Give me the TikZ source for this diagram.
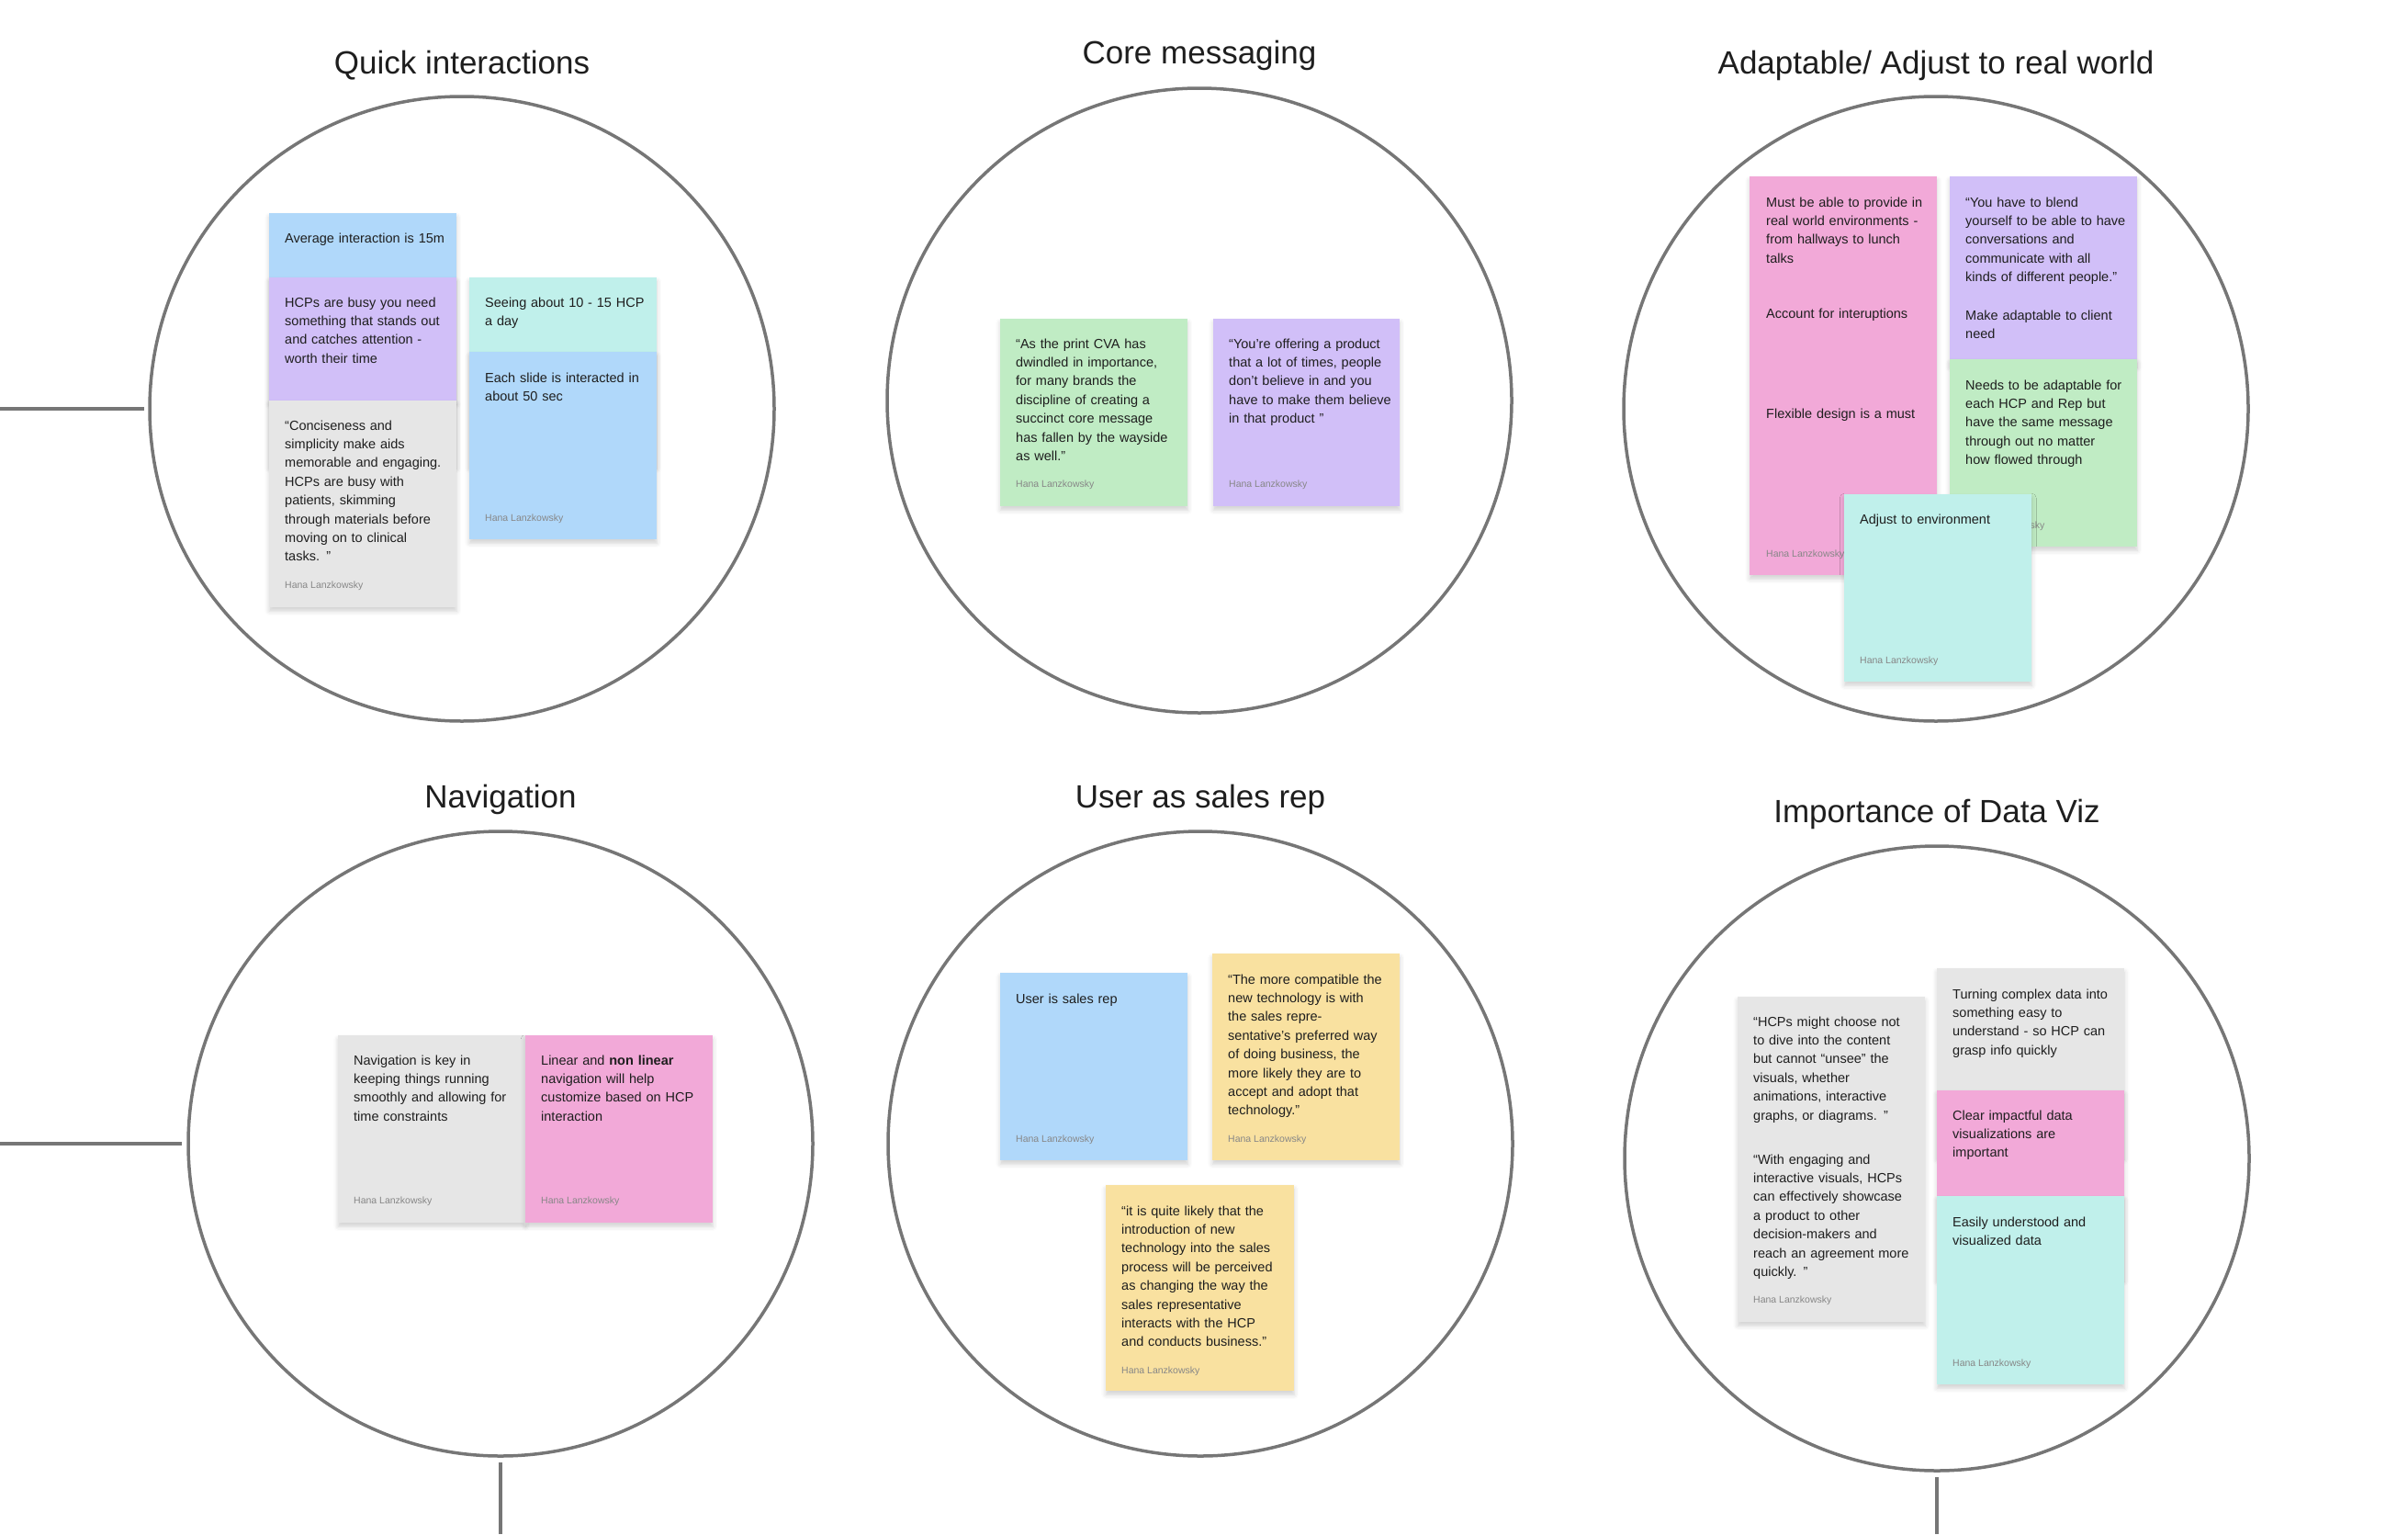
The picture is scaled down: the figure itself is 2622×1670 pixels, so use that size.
\documentclass[tikz,border=0pt]{standalone}
\usepackage{fontspec}
\setmainfont{Liberation Sans}
\usetikzlibrary{calc, shadows.blur}
\definecolor{ringGray}{RGB}{118,118,118}
\definecolor{inkDark}{RGB}{30,30,30}
\definecolor{inkSoft}{RGB}{135,135,135}
\definecolor{stkBlue}{RGB}{176,216,250}
\definecolor{stkViolet}{RGB}{209,191,248}
\definecolor{stkGray}{RGB}{230,230,230}
\definecolor{stkTeal}{RGB}{192,240,235}
\definecolor{stkGreen}{RGB}{192,236,196}
\definecolor{stkPink}{RGB}{242,169,216}
\definecolor{stkYellow}{RGB}{249,225,160}
\tikzset{
    ring/.style={circle, draw=ringGray, line width=3.5pt, minimum size=680pt, inner sep=0pt},
    ringtitle/.style={anchor=base, text=inkDark, font=\fontsize{35}{42}\selectfont},
    link/.style={draw=ringGray, line width=3.5pt},
    sticky/.style={rectangle, anchor=north west, inner sep=0pt, minimum width=204pt, minimum height=204pt,
        blur shadow={shadow xshift=0pt, shadow yshift=-4pt, shadow blur radius=5pt, shadow opacity=18}},
    notetext/.style={anchor=base west, inner sep=0pt, text width=186pt, align=left, text=inkDark, font=\fontsize{14.5}{20.4}\selectfont},
    author/.style={anchor=base west, inner sep=0pt, text=inkSoft, font=\fontsize{10.5}{12}\selectfont}
}
\begin{document}
\begin{tikzpicture}[x=1pt, y=-1pt]
    \useasboundingbox (0,0) rectangle (2622,1670);

    % Clusters
    \node[ring] (qi) at (503,445) {};
    \node[ring] (core) at (1306,436) {};
    \node[ring] (adapt) at (2108,445) {};
    \node[ring] (navi) at (545,1245) {};
    \node[ring] (rep) at (1307,1245) {};
    \node[ring] (viz) at (2109,1261) {};

    \node[ringtitle] (qiTitle) at (503,80) {Quick interactions};
    \node[ringtitle] (coreTitle) at (1306,70) {Core messaging};
    \node[ringtitle] (adaptTitle) at (2108,80) {Adaptable/ Adjust to real world};
    \node[ringtitle] (naviTitle) at (545,879) {Navigation};
    \node[ringtitle] (repTitle) at (1307,879) {User as sales rep};
    \node[ringtitle] (vizTitle) at (2109,895) {Importance of Data Viz};

    % Connectors leaving the frame
    \coordinate (feedA) at (0,445);
    \coordinate (feedB) at (0,1245);
    \coordinate (outA) at (545,1670);
    \coordinate (outB) at (2109,1670);
    \draw[link, shorten >=4pt] (feedA) -- (qi.west);
    \draw[link, shorten >=5pt] (feedB) -- (navi.west);
    \draw[link, shorten <=5pt] (navi.south) -- (outA);
    \draw[link, shorten <=5pt] (viz.south) -- (outB);

    % Quick interactions
    \node[sticky, fill=stkBlue] (qiAvg) at (293,232) {};
    \node[notetext] (qiAvgT) at ($(qiAvg.north west)+(17,32)$) {Average interaction is 15m};
    \node[sticky, fill=stkViolet] (qiBusy) at (293,302) {};
    \node[notetext] (qiBusyT) at ($(qiBusy.north west)+(17,32)$) {HCPs are busy you need\\something that stands out\\and catches attention -\\worth their time};
    \node[sticky, fill=stkGray, minimum height=225pt] (qiConc) at (293,436) {};
    \node[notetext] (qiConcT) at ($(qiConc.north west)+(17,32)$) {“Conciseness and\\simplicity make aids\\memorable and engaging.\\HCPs are busy with\\patients, skimming\\through materials before\\moving on to clinical\\tasks. ”};
    \node[author] (qiConcA) at ($(qiConc.south west)+(17,-21)$) {Hana Lanzkowsky};
    \node[sticky, fill=stkTeal] (qiSeen) at (511,302) {};
    \node[notetext] (qiSeenT) at ($(qiSeen.north west)+(17,32)$) {Seeing about 10 - 15 HCP\\a day};
    \node[sticky, fill=stkBlue] (qiSlide) at (511,383) {};
    \node[notetext] (qiSlideT) at ($(qiSlide.north west)+(17,33)$) {Each slide is interacted in\\about 50 sec};
    \node[author] (qiSlideA) at ($(qiSlide.south west)+(17,-20)$) {Hana Lanzkowsky};

    % Core messaging
    \node[sticky, fill=stkGreen] (cmPrint) at (1089,347) {};
    \node[notetext] (cmPrintT) at ($(cmPrint.north west)+(17,32)$) {“As the print CVA has\\dwindled in importance,\\for many brands the\\discipline of creating a\\succinct core message\\has fallen by the wayside\\as well.”};
    \node[author] (cmPrintA) at ($(cmPrint.south west)+(17,-21)$) {Hana Lanzkowsky};
    \node[sticky, fill=stkViolet, minimum width=203pt] (cmOffer) at (1321,347) {};
    \node[notetext] (cmOfferT) at ($(cmOffer.north west)+(17,32)$) {“You’re offering a product\\that a lot of times, people\\don’t believe in and you\\have to make them believe\\in that product ”};
    \node[author] (cmOfferA) at ($(cmOffer.south west)+(17,-21)$) {Hana Lanzkowsky};

    % Adaptable
    \node[sticky, fill=stkPink, minimum height=434pt] (adReal) at (1905,192) {};
    \node[notetext] (adRealT) at ($(adReal.north west)+(18,33)$) {Must be able to provide in\\real world environments -\\from hallways to lunch\\talks};
    \node[notetext] (adBreakT) at ($(adReal.north west)+(18,154)$) {Account for interuptions};
    \node[notetext] (adFlexT) at ($(adReal.north west)+(18,263)$) {Flexible design is a must};
    \node[author] (adRealA) at ($(adReal.south west)+(18,-20)$) {Hana Lanzkowsky};
    \node[sticky, fill=stkViolet] (adBlend) at (2123,192) {};
    \node[notetext] (adBlendT) at ($(adBlend.north west)+(17,33)$) {“You have to blend\\yourself to be able to have\\conversations and\\communicate with all\\kinds of different people.”};
    \node[notetext] (adClientT) at ($(adBlend.north west)+(17,156)$) {Make adaptable to client\\need};
    \node[sticky, fill=stkGreen] (adHcp) at (2123,391) {};
    \node[notetext] (adHcpT) at ($(adHcp.north west)+(17,33)$) {Needs to be adaptable for\\each HCP and Rep but\\have the same message\\through out no matter\\how flowed through};
    \node[author] (adHcpA) at ($(adHcp.south west)+(18,-20)$) {Hana Lanzkowsky};
    \node[sticky, fill=stkTeal] (adEnv) at (2008,538) {};
    \node[notetext] (adEnvT) at ($(adEnv.north west)+(17,32)$) {Adjust to environment};
    \node[author] (adEnvA) at ($(adEnv.south west)+(17,-20)$) {Hana Lanzkowsky};

    % Navigation
    \node[sticky, fill=stkGray] (navKey) at (368,1127) {};
    \node[notetext] (navKeyT) at ($(navKey.north west)+(17,32)$) {Navigation is key in\\keeping things running\\smoothly and allowing for\\time constraints};
    \node[author] (navKeyA) at ($(navKey.south west)+(17,-21)$) {Hana Lanzkowsky};
    \node[sticky, fill=stkPink] (navLin) at (572,1127) {};
    \node[notetext] (navLinT) at ($(navLin.north west)+(17,32)$) {Linear and \textbf{non linear}\\navigation will help\\customize based on HCP\\interaction};
    \node[author] (navLinA) at ($(navLin.south west)+(17,-21)$) {Hana Lanzkowsky};

    % User as sales rep
    \node[sticky, fill=stkBlue] (repUser) at (1089,1059) {};
    \node[notetext] (repUserT) at ($(repUser.north west)+(17,33)$) {User is sales rep};
    \node[author] (repUserA) at ($(repUser.south west)+(17,-20)$) {Hana Lanzkowsky};
    \node[sticky, fill=stkYellow, minimum height=225pt] (repCompat) at (1320,1038) {};
    \node[notetext] (repCompatT) at ($(repCompat.north west)+(17,33)$) {“The more compatible the\\new technology is with\\the sales repre-\\sentative’s preferred way\\of doing business, the\\more likely they are to\\accept and adopt that\\technology.”};
    \node[author] (repCompatA) at ($(repCompat.south west)+(17,-20)$) {Hana Lanzkowsky};
    \node[sticky, fill=stkYellow, minimum width=205pt, minimum height=224pt] (repIntro) at (1204,1290) {};
    \node[notetext] (repIntroT) at ($(repIntro.north west)+(17,33)$) {“it is quite likely that the\\introduction of new\\technology into the sales\\process will be perceived\\as changing the way the\\sales representative\\interacts with the HCP\\and conducts business.”};
    \node[author] (repIntroA) at ($(repIntro.south west)+(17,-19)$) {Hana Lanzkowsky};

    % Importance of Data Viz
    \node[sticky, fill=stkGray, minimum height=354pt] (vizUnsee) at (1892,1085) {};
    \node[notetext] (vizUnseeT) at ($(vizUnsee.north west)+(17,32)$) {“HCPs might choose not\\to dive into the content\\but cannot “unsee” the\\visuals, whether\\animations, interactive\\graphs, or diagrams. ”};
    \node[notetext] (vizShowT) at ($(vizUnsee.north west)+(17,182)$) {“With engaging and\\interactive visuals, HCPs\\can effectively showcase\\a product to other\\decision-makers and\\reach an agreement more\\quickly. ”};
    \node[author] (vizUnseeA) at ($(vizUnsee.south west)+(17,-21)$) {Hana Lanzkowsky};
    \node[sticky, fill=stkGray] (vizTurn) at (2109,1054) {};
    \node[notetext] (vizTurnT) at ($(vizTurn.north west)+(17,33)$) {Turning complex data into\\something easy to\\understand - so HCP can\\grasp info quickly};
    \node[sticky, fill=stkPink] (vizClear) at (2109,1187) {};
    \node[notetext] (vizClearT) at ($(vizClear.north west)+(17,32)$) {Clear impactful data\\visualizations are\\important};
    \node[sticky, fill=stkTeal, minimum height=205pt] (vizEasy) at (2109,1302) {};
    \node[notetext] (vizEasyT) at ($(vizEasy.north west)+(17,33)$) {Easily understood and\\visualized data};
    \node[author] (vizEasyA) at ($(vizEasy.south west)+(17,-20)$) {Hana Lanzkowsky};
\end{tikzpicture}
\end{document}
